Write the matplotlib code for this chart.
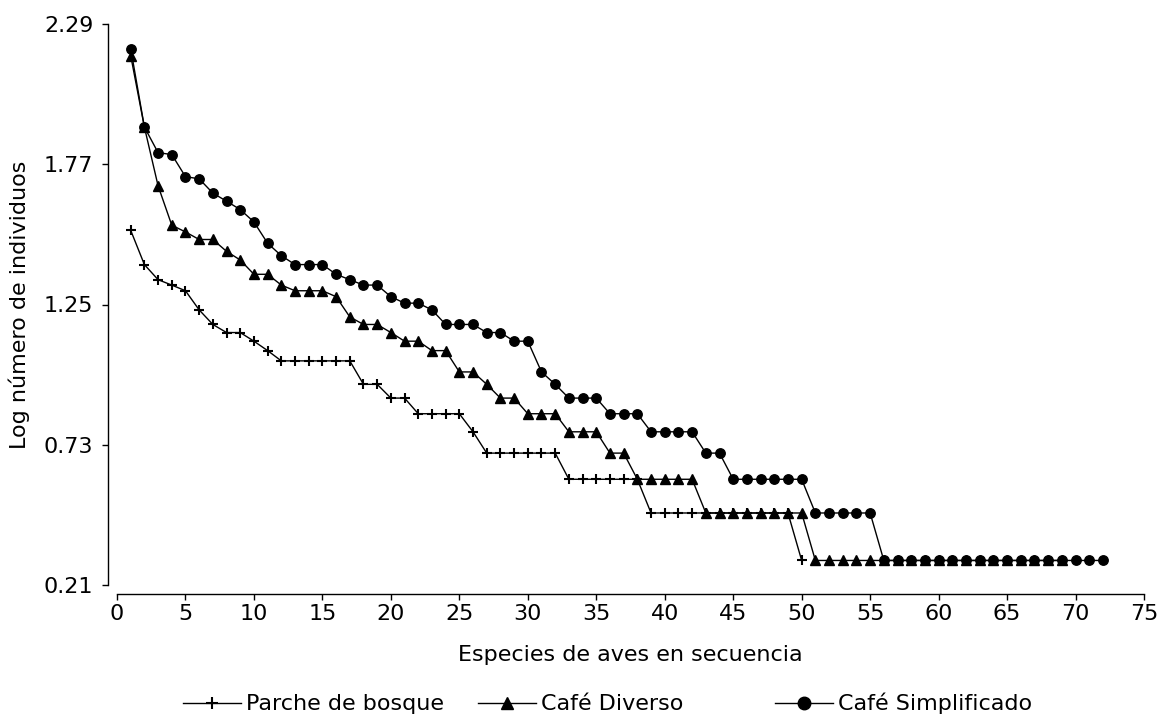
import matplotlib
matplotlib.use("Agg")
import matplotlib.pyplot as plt
from matplotlib.lines import Line2D

plt.rcParams['font.family'] = ['DejaVu Sans']

# Data (log10 abundance)
parche = [1.525, 1.398, 1.342, 1.322, 1.301, 1.230, 1.176, 1.146, 1.146, 1.114,
          1.079, 1.041, 1.041, 1.041, 1.041, 1.041, 1.041, 0.954, 0.954, 0.903,
          0.903, 0.845, 0.845, 0.845, 0.845, 0.778, 0.699, 0.699, 0.699, 0.699,
          0.699, 0.699, 0.602, 0.602, 0.602, 0.602, 0.602, 0.602, 0.477, 0.477,
          0.477, 0.477, 0.477, 0.477, 0.477, 0.477, 0.477, 0.477, 0.477, 0.301]

diverso = [2.173, 1.908, 1.690, 1.544, 1.519, 1.491, 1.491, 1.447, 1.415, 1.362,
           1.362, 1.322, 1.301, 1.301, 1.301, 1.279, 1.204, 1.176, 1.176, 1.146,
           1.114, 1.114, 1.079, 1.079, 1.000, 1.000, 0.954, 0.903, 0.903, 0.845,
           0.845, 0.845, 0.778, 0.778, 0.778, 0.699, 0.699, 0.602, 0.602, 0.602,
           0.602, 0.602, 0.477, 0.477, 0.477, 0.477, 0.477, 0.477, 0.477, 0.477,
           0.301, 0.301, 0.301, 0.301, 0.301, 0.301, 0.301, 0.301, 0.301, 0.301,
           0.301, 0.301, 0.301, 0.301, 0.301, 0.301, 0.301, 0.301, 0.301]

simplificado = [2.199, 1.908, 1.813, 1.806, 1.724, 1.716, 1.663, 1.633, 1.602, 1.556,
                1.477, 1.431, 1.398, 1.398, 1.398, 1.362, 1.342, 1.322, 1.322, 1.279,
                1.255, 1.255, 1.230, 1.176, 1.176, 1.176, 1.146, 1.146, 1.114, 1.114,
                1.000, 0.954, 0.903, 0.903, 0.903, 0.845, 0.845, 0.845, 0.778, 0.778,
                0.778, 0.778, 0.699, 0.699, 0.602, 0.602, 0.602, 0.602, 0.602, 0.602,
                0.477, 0.477, 0.477, 0.477, 0.477, 0.301, 0.301, 0.301, 0.301, 0.301,
                0.301, 0.301, 0.301, 0.301, 0.301, 0.301, 0.301, 0.301, 0.301, 0.301,
                0.301, 0.301]

labels = ["Parche de bosque", "Café Diverso", "Café Simplificado"]
x_ticks = list(range(0, 80, 5))
y_ticks = [0.21, 0.73, 1.25, 1.77, 2.29]

fig = plt.figure(figsize=(11.68, 7.23), dpi=100)
ax = fig.add_axes([117/1168, 1 - 585/723, 1027/1168, 561/723])

fs = 16
styles = [dict(marker='+', ms=7.5, mew=1.5),
          dict(marker='^', ms=7.5),
          dict(marker='o', ms=6.8)]
series = [parche, diverso, simplificado]
for vals, st, lab in zip(series, styles, labels):
    ax.plot(range(1, len(vals) + 1), vals, color='black', lw=1.0,
            label=lab, **st)

ax.set_xlim(0, 75)
ax.set_ylim(0.21, 2.29)
ax.set_xticks(x_ticks)
ax.set_yticks(y_ticks)
ax.set_yticklabels([f"{v:.2f}" for v in y_ticks])

for s in ['top', 'right']:
    ax.spines[s].set_visible(False)
ax.spines['left'].set_position(('outward', 6.5))
ax.spines['bottom'].set_position(('outward', 6.5))
for s in ['left', 'bottom']:
    ax.spines[s].set_linewidth(1.0)

ax.tick_params(axis='both', direction='out', length=4.5, width=1.0,
               labelsize=fs, colors='black')
ax.tick_params(axis='y', pad=6)
ax.tick_params(axis='x', pad=3)

ax.set_xlabel("Especies de aves en secuencia", fontsize=fs, labelpad=15)
ax.set_ylabel("Log número de individuos", fontsize=fs, labelpad=10)

# Legend entries placed like the original (one per column)
leg_x = [183 / 1168, 478 / 1168, 775 / 1168]
leg_styles = [dict(marker='+', ms=9, mew=1.5),
              dict(marker='^', ms=9),
              dict(marker='o', ms=9)]
for xpos, st, lab in zip(leg_x, leg_styles, labels):
    h = Line2D([], [], color='black', lw=1.0, **st)
    lg = fig.legend([h], [lab], loc='lower left', frameon=False, fontsize=fs,
                    bbox_to_anchor=(xpos, 0.012), borderpad=0, borderaxespad=0,
                    handlelength=2.6, handletextpad=0.25)

fig.savefig("out.png", dpi=100, facecolor='white')
